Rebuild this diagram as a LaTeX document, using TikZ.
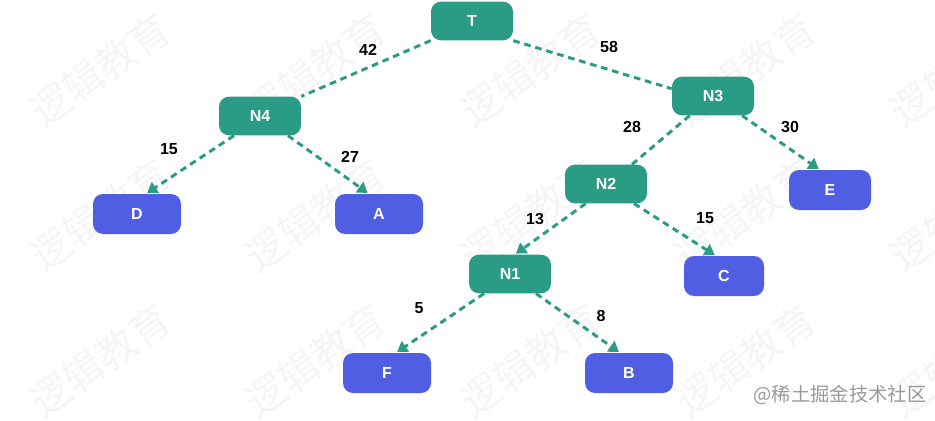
\documentclass[tikz,border=0pt]{standalone}
\usepackage{fontspec}
\setmainfont{Liberation Sans}
\newfontfamily\cjkfont{Noto Sans CJK SC}
\usetikzlibrary{arrows.meta,backgrounds}

\definecolor{treeteal}{RGB}{42,155,133}
\definecolor{leafblue}{RGB}{80,94,227}

\tikzset{
  branch/.style={fill=treeteal, rounded corners=7.5pt, minimum width=61.5pt, minimum height=29pt, inner sep=0pt, text=white, font=\fontsize{12}{14}\selectfont\bfseries},
  leaf/.style={branch, fill=leafblue, minimum width=66pt, minimum height=30pt},
  link/.style={draw=treeteal, line width=2.2pt, dash pattern=on 5pt off 3.6pt},
  tolink/.style={link, shorten >=1pt, -{Triangle[length=7.5pt,width=9.5pt]}},
  wlabel/.style={inner sep=0pt, font=\fontsize{12}{14}\selectfont\bfseries},
  wmark/.style={inner sep=0pt, text=black!4, rotate=35, font=\cjkfont\fontsize{30}{30}\selectfont}
}

\begin{document}
\begin{tikzpicture}[x=0.75pt,y=0.75pt,yscale=-1]
\useasboundingbox (0,0) rectangle (935,421);

% Tree Nodes
\node[branch] (T) at (472,21) {T};
\node[branch] (N4) at (260,116) {N4};
\node[branch] (N3) at (713,96) {N3};
\node[branch] (N2) at (606,184) {N2};
\node[branch] (N1) at (510,274) {N1};
% Leaf Nodes
\node[leaf] (D) at (137,214) {D};
\node[leaf] (A) at (379,214) {A};
\node[leaf, minimum width=61.5pt] (E) at (830,190) {E};
\node[leaf, minimum width=60pt] (C) at (724,276) {C};
\node[leaf] (F) at (387,373) {F};
\node[leaf] (B) at (629,373) {B};

% Weights
\node[wlabel] (w42) at (368,50) {42};
\node[wlabel] (w58) at (609,47) {58};
\node[wlabel] (w15a) at (169,149) {15};
\node[wlabel] (w27) at (350,157) {27};
\node[wlabel] (w28) at (632,127) {28};
\node[wlabel] (w30) at (790,127) {30};
\node[wlabel] (w13) at (535,219) {13};
\node[wlabel] (w15b) at (705,218) {15};
\node[wlabel] (w5) at (419,308) {5};
\node[wlabel] (w8) at (601,316) {8};

% Site Mark
\node[inner sep=0pt, text=black!40, font=\cjkfont\fontsize{14.5}{15}\selectfont] (site) at (840,395) {@稀土掘金技术社区};

\begin{scope}[on background layer]
% Watermark
\foreach \i in {0,...,4}
  \foreach \j in {0,...,2}
    \node[wmark] (wm\i\j) at (100+215*\i,70+145*\j) {逻辑教育};

% Links between branch nodes
\draw[link] (T.south west) -- (N4.north east);
\draw[link] (T.south east) -- (N3.170);
\draw[link] (N3.220) -- (N2.37);
\draw[tolink] (N2.224) -- (N1.76);

% Links to leaves
\draw[tolink] (N4.217) -- (D.66);
\draw[tolink] (N4.-35) -- (A.117);
\draw[tolink] (N3.-34) -- (E.117);
\draw[tolink] (N2.-35) -- (C.112);
\draw[tolink] (N1.217) -- (F.66);
\draw[tolink] (N1.-37) -- (B.114);
\end{scope}

\end{tikzpicture}
\end{document}
